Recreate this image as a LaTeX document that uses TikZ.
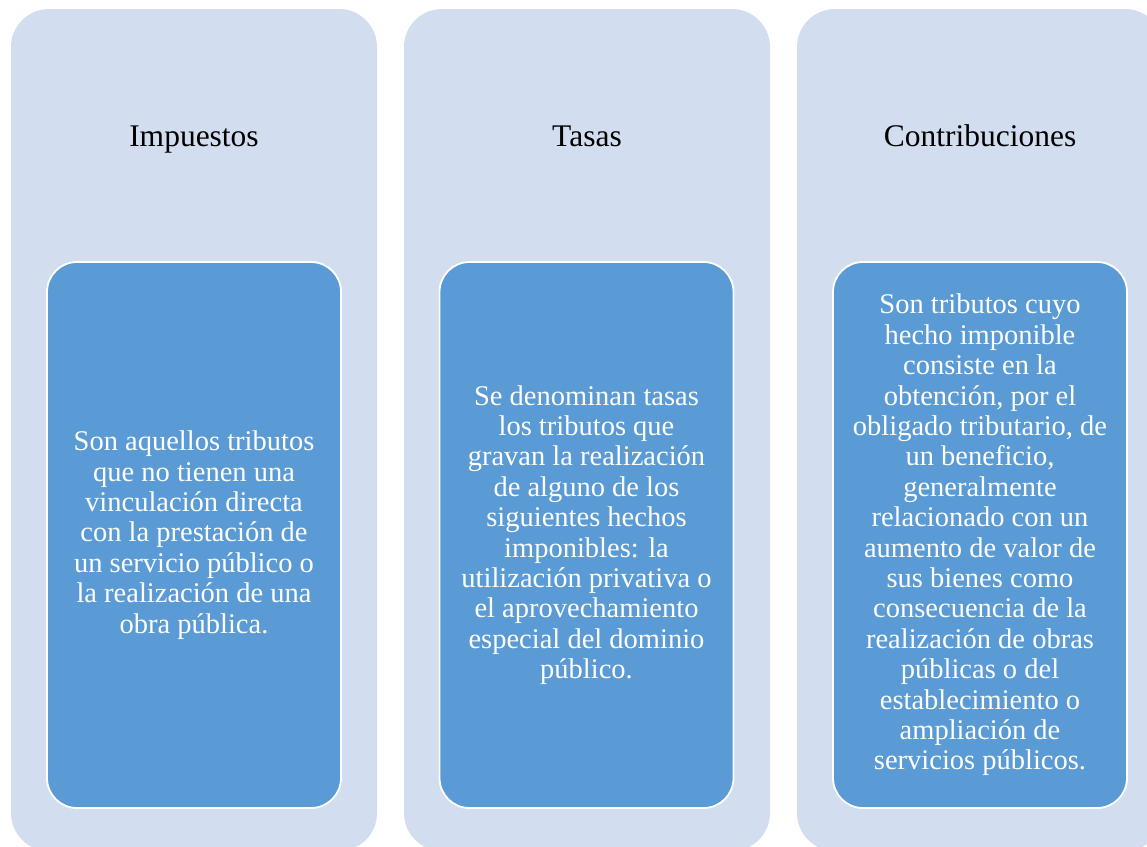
\documentclass[tikz,border=0pt]{standalone}
\usepackage{fontspec}
\setmainfont{Liberation Serif}
\definecolor{outerfill}{HTML}{D2DEEF}
\definecolor{innerfill}{HTML}{5B9BD5}
\begin{document}
\begin{tikzpicture}[x=1pt,y=-1pt,
  outerbox/.style={fill=outerfill, draw=none, rounded corners=38pt, minimum width=366pt, minimum height=842pt, inner sep=0pt},
  innerbox/.style={fill=innerfill, draw=white, line width=1.8pt, rounded corners=30pt, minimum width=294pt, minimum height=546pt, inner sep=0pt, align=center, text=white, font={\fontsize{28.5}{30.4}\selectfont}},
  titletext/.style={text=black, font={\fontsize{31.5}{36}\selectfont}, inner sep=0pt, anchor=base}]
\useasboundingbox (0,0) rectangle (1147,846);
\clip (0,0) rectangle (1147,846);
\node[outerbox] (o1) at (194,430) {};
\node[outerbox] (o2) at (587,430) {};
\node[outerbox] (o3) at (980,430) {};
\node[titletext] (t1) at (194,146) {Impuestos};
\node[titletext] (t2) at (587,146) {Tasas};
\node[titletext] (t3) at (980,146) {Contribuciones};
\node[innerbox] (i1) at (194,535) {Son aquellos tributos\\que no tienen una\\vinculación directa\\con la prestación de\\un servicio público o\\la realización de una\\obra pública.};
\node[innerbox] (i2) at (586.5,535) {Se denominan tasas\\los tributos que\\gravan la realización\\de alguno de los\\siguientes hechos\\imponibles: la\\utilización privativa o\\el aprovechamiento\\especial del dominio\\público.};
\node[innerbox] (i3) at (980,535) {Son tributos cuyo\\hecho imponible\\consiste en la\\obtención, por el\\obligado tributario, de\\un beneficio,\\generalmente\\relacionado con un\\aumento de valor de\\sus bienes como\\consecuencia de la\\realización de obras\\públicas o del\\establecimiento o\\ampliación de\\servicios públicos.};
\end{tikzpicture}
\end{document}
